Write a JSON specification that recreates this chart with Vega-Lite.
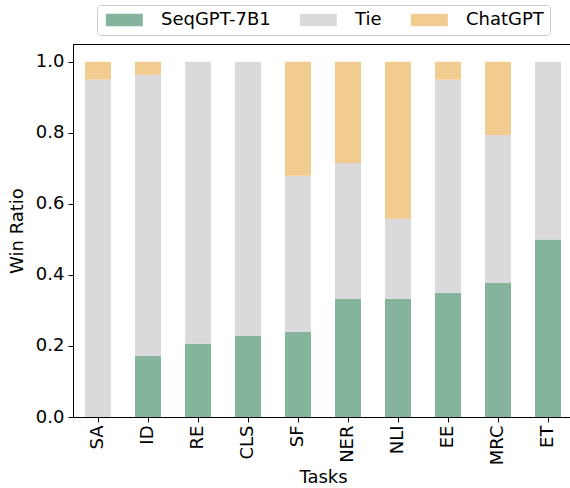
{
  "$schema": "https://vega.github.io/schema/vega-lite/v6.json",
  "width": 500,
  "height": 373,
  "autosize": {"type": "none"},
  "padding": {"left": 73, "top": 44, "right": 0, "bottom": 71},
  "background": "white",
  "data": {"values": [
    {"task": "SA", "model": "SeqGPT-7B1", "value": 0.0},
    {"task": "SA", "model": "Tie", "value": 0.95},
    {"task": "SA", "model": "ChatGPT", "value": 0.05},
    {"task": "ID", "model": "SeqGPT-7B1", "value": 0.172},
    {"task": "ID", "model": "Tie", "value": 0.791},
    {"task": "ID", "model": "ChatGPT", "value": 0.037},
    {"task": "RE", "model": "SeqGPT-7B1", "value": 0.206},
    {"task": "RE", "model": "Tie", "value": 0.794},
    {"task": "RE", "model": "ChatGPT", "value": 0.0},
    {"task": "CLS", "model": "SeqGPT-7B1", "value": 0.228},
    {"task": "CLS", "model": "Tie", "value": 0.772},
    {"task": "CLS", "model": "ChatGPT", "value": 0.0},
    {"task": "SF", "model": "SeqGPT-7B1", "value": 0.239},
    {"task": "SF", "model": "Tie", "value": 0.44},
    {"task": "SF", "model": "ChatGPT", "value": 0.321},
    {"task": "NER", "model": "SeqGPT-7B1", "value": 0.333},
    {"task": "NER", "model": "Tie", "value": 0.382},
    {"task": "NER", "model": "ChatGPT", "value": 0.285},
    {"task": "NLI", "model": "SeqGPT-7B1", "value": 0.333},
    {"task": "NLI", "model": "Tie", "value": 0.225},
    {"task": "NLI", "model": "ChatGPT", "value": 0.442},
    {"task": "EE", "model": "SeqGPT-7B1", "value": 0.35},
    {"task": "EE", "model": "Tie", "value": 0.6},
    {"task": "EE", "model": "ChatGPT", "value": 0.05},
    {"task": "MRC", "model": "SeqGPT-7B1", "value": 0.377},
    {"task": "MRC", "model": "Tie", "value": 0.417},
    {"task": "MRC", "model": "ChatGPT", "value": 0.206},
    {"task": "ET", "model": "SeqGPT-7B1", "value": 0.5},
    {"task": "ET", "model": "Tie", "value": 0.5},
    {"task": "ET", "model": "ChatGPT", "value": 0.0}
  ]},
  "transform": [
    {"calculate": "indexof(['SeqGPT-7B1','Tie','ChatGPT'], datum.model)", "as": "stackOrder"}
  ],
  "mark": {"type": "bar"},
  "encoding": {
    "x": {
      "field": "task", "type": "nominal",
      "sort": ["SA","ID","RE","CLS","SF","NER","NLI","EE","MRC","ET"],
      "scale": {"paddingInner": 0.48, "paddingOuter": 0.24},
      "axis": {
        "title": "Tasks", "labelAngle": -90, "labelFont": "DejaVu Sans", "labelFontSize": 18,
        "titleFont": "DejaVu Sans", "titleFontSize": 18, "titleFontWeight": "normal",
        "labelColor": "black", "titleColor": "black",
        "domainColor": "black", "tickColor": "black", "tickSize": 5, "labelPadding": 3,
        "titlePadding": 4
      }
    },
    "y": {
      "field": "value", "type": "quantitative", "stack": "zero",
      "scale": {"domain": [0, 1.05], "nice": false},
      "axis": {
        "title": "Win Ratio", "values": [0, 0.2, 0.4, 0.6, 0.8, 1.0], "format": ".1f",
        "grid": false, "labelFont": "DejaVu Sans", "labelFontSize": 18,
        "titleFont": "DejaVu Sans", "titleFontSize": 18, "titleFontWeight": "normal",
        "labelColor": "black", "titleColor": "black",
        "domainColor": "black", "tickColor": "black", "tickSize": 5, "labelPadding": 4,
        "titlePadding": 9
      }
    },
    "color": {
      "field": "model", "type": "nominal",
      "sort": ["SeqGPT-7B1", "Tie", "ChatGPT"],
      "scale": {"domain": ["SeqGPT-7B1", "Tie", "ChatGPT"], "range": ["#84b59c", "#dbd9dc", "#f2cc8f"]},
      "legend": {
        "title": null, "orient": "none", "legendX": 24, "legendY": -39,
        "direction": "horizontal", "columns": 3,
        "symbolType": "M-1,-1H5V1H-1Z", "symbolSize": 152, "symbolStrokeWidth": 0,
        "symbolOpacity": 1,
        "labelFont": "DejaVu Sans", "labelFontSize": 18, "labelColor": "black",
        "labelOffset": 40, "columnPadding": 26,
        "strokeColor": "#cccccc", "fillColor": "white", "padding": 6, "cornerRadius": 3
      }
    },
    "order": {"field": "stackOrder", "type": "quantitative", "sort": "ascending"}
  },
  "config": {
    "view": {"stroke": "black", "strokeWidth": 1}
  }
}
